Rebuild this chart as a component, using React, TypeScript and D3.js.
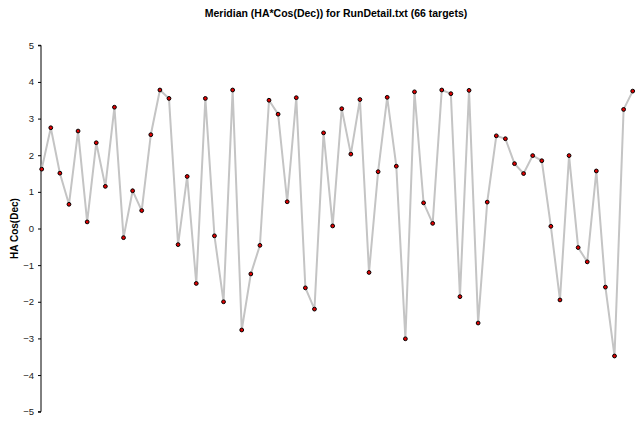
import React, { useEffect, useRef } from 'react';
import * as d3 from 'd3';

const title = 'Meridian (HA*Cos(Dec)) for RunDetail.txt (66 targets)';
const yLabel = 'HA Cos(Dec)';
const yTicks = [-5, -4, -3, -2, -1, 0, 1, 2, 3, 4, 5];

// HA*Cos(Dec) for each target, in run order
const values = [
  1.62, 2.75, 1.51, 0.66, 2.66, 0.18, 2.34, 1.15, 3.31, -0.25,
  1.03, 0.49, 2.56, 3.78, 3.55, -0.44, 1.42, -1.5, 3.55, -0.2,
  -2.0, 3.78, -2.77, -1.24, -0.46, 3.5, 3.12, 0.73, 3.57, -1.62,
  -2.2, 2.61, 0.07, 3.27, 2.03, 3.52, -1.2, 1.55, 3.58, 1.7,
  -3.01, 3.73, 0.7, 0.14, 3.78, 3.68, -1.86, 3.77, -2.58, 0.72,
  2.53, 2.45, 1.77, 1.5, 1.99, 1.85, 0.06, -1.95, 1.99, -0.52,
  -0.91, 1.57, -1.6, -3.48, 3.25, 3.75,
];

const width = 642;
const height = 421;

export default function App() {
  const ref = useRef<SVGSVGElement>(null);

  useEffect(() => {
    const svg = d3.select(ref.current);
    svg.selectAll('*').remove();

    const x = d3.scaleLinear().domain([0, values.length - 1]).range([41.7, 632.7]);
    const y = d3.scaleLinear().domain([-5, 5]).range([411.7, 45.3]);

    svg.append('text')
      .attr('x', 336)
      .attr('y', 17)
      .attr('text-anchor', 'middle')
      .style('font', 'bold 10.5px "Liberation Sans", Arial, sans-serif')
      .text(title);

    const axis = svg.append('g')
      .attr('transform', 'translate(41,0)')
      .call(d3.axisLeft(y).tickValues(yTicks).tickSize(3).tickPadding(4).tickFormat(d3.format('d')));
    axis.select('.domain').attr('stroke', '#000').attr('d', `M-3,${y(5)}H0V${y(-5)}H-3`);
    axis.selectAll('text')
      .style('font', '9.5px "Liberation Sans", Arial, sans-serif')
      .attr('fill', '#222');

    svg.append('text')
      .attr('transform', `translate(18,${y(0)}) rotate(-90)`)
      .attr('text-anchor', 'middle')
      .style('font', 'bold 10px "Liberation Sans", Arial, sans-serif')
      .text(yLabel);

    const line = d3.line<number>()
      .x((d, i) => x(i))
      .y(d => y(d));

    svg.append('path')
      .datum(values)
      .attr('d', line)
      .attr('fill', 'none')
      .attr('stroke', '#c4c4c4')
      .attr('stroke-width', 2);

    svg.append('g')
      .selectAll('circle')
      .data(values)
      .join('circle')
      .attr('cx', (d, i) => x(i))
      .attr('cy', d => y(d))
      .attr('r', 1.9)
      .attr('fill', '#e00000')
      .attr('stroke', '#000')
      .attr('stroke-width', 1);
  });

  return (
    <svg
      ref={ref}
      width={width}
      height={height}
      style={{ position: 'absolute', left: 0, top: 0, background: '#fff' }}
    />
  );
}
